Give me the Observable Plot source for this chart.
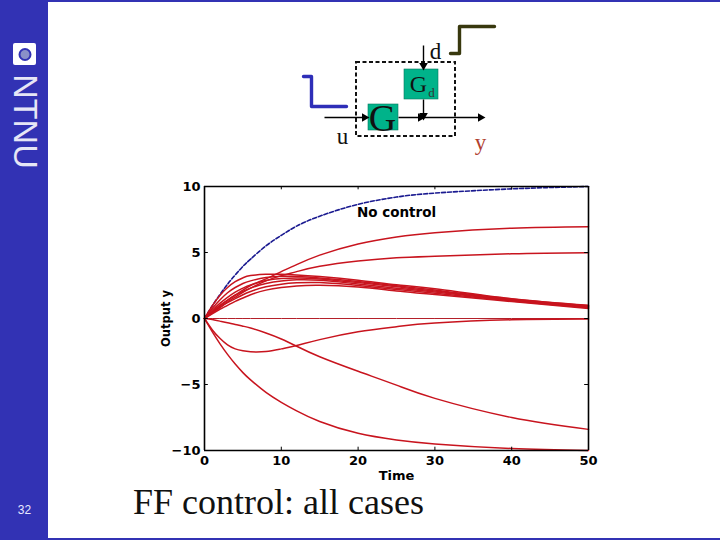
<!DOCTYPE html>
<html><head><meta charset="utf-8">
<script src="https://cdn.jsdelivr.net/npm/d3@7"></script>
<script src="https://cdn.jsdelivr.net/npm/@observablehq/plot@0.6"></script>
<style>
html,body{margin:0;padding:0;background:#fff;width:720px;height:540px;overflow:hidden}
#side{position:absolute;left:0;top:0;width:48px;height:540px;background:#3232b4}
#topb{position:absolute;left:0;top:0;width:720px;height:2px;background:#3232b4}
#botb{position:absolute;left:0;top:538px;width:720px;height:2px;background:#3232b4}
#diagram,#chart{position:absolute;left:0}
#diagram{top:0}#chart{top:170px}
#title{position:absolute;left:133px;top:484px;font:36px/36px "Liberation Serif",serif;color:#111;white-space:nowrap}
</style></head><body>
<div id="side"></div><div id="topb"></div><div id="botb"></div>
<div id="diagram"></div><div id="chart"></div>
<div id="title">FF control: all cases</div>
<script>
const t = [0,1,2,3,4,5,6,8,10,12,15,20,25,30,40,50];
const noControl = [0,0.95,1.8,2.6,3.3,3.95,4.5,5.5,6.3,7.0,7.75,8.65,9.2,9.5,9.82,10];
const high7 = [0,0.48,0.95,1.38,1.78,2.15,2.5,3.0,3.55,4.08,4.8,5.65,6.18,6.5,6.84,6.95];
const high5 = [0,0.45,0.85,1.25,1.62,1.98,2.3,2.85,3.25,3.55,3.95,4.35,4.6,4.72,4.9,4.98];
const b1 = [0,0.95,1.75,2.35,2.8,3.08,3.25,3.35,3.35,3.3,3.18,2.9,2.55,2.25,1.5,1.0];
const b2 = [0,0.75,1.4,1.95,2.35,2.65,2.85,3.1,3.2,3.18,3.07,2.8,2.48,2.15,1.48,0.97];
const b3 = [0,0.62,1.15,1.6,2.0,2.3,2.55,2.88,3.03,3.07,3.0,2.72,2.4,2.08,1.42,0.92];
const b4 = [0,0.52,1.0,1.4,1.75,2.05,2.3,2.65,2.85,2.93,2.9,2.62,2.3,2.0,1.38,0.87];
const b5 = [0,0.42,0.82,1.2,1.5,1.8,2.05,2.4,2.6,2.7,2.72,2.5,2.2,1.92,1.33,0.82];
const b6 = [0,0.36,0.7,1.0,1.3,1.55,1.8,2.15,2.35,2.47,2.52,2.38,2.08,1.82,1.28,0.75];
const flat = t.map(() => 0);
const dip = [0,-0.85,-1.5,-2.0,-2.3,-2.45,-2.52,-2.5,-2.3,-2.05,-1.6,-1.0,-0.62,-0.35,-0.1,-0.04];
const low8 = [0,-0.08,-0.2,-0.33,-0.45,-0.58,-0.72,-1.1,-1.55,-2.1,-2.9,-4.0,-5.05,-6.05,-7.5,-8.4];
const low10 = [0,-1.0,-1.9,-2.72,-3.45,-4.1,-4.65,-5.6,-6.35,-7.0,-7.8,-8.7,-9.2,-9.5,-9.85,-10];
const reds = [high7,high5,b1,b2,b3,b4,b5,b6,dip,low8,low10];
const xTicks = [0,10,20,30,40,50];
const yTicks = [-10,-5,0,5,10];
const labelFont = '"DejaVu Sans",sans-serif';
const toRows = v => v.map((y,i)=>({t:t[i],y}));
const RED = "#c8141e";

const chart = Plot.plot({
  width:720,height:320,marginLeft:204,marginRight:132,marginTop:16,marginBottom:40,
  style:{background:"transparent",fontFamily:labelFont,fontWeight:"bold",fontSize:"13px",color:"#000"},
  x:{domain:[0,50],ticks:xTicks,label:null},
  y:{domain:[-10,10],ticks:yTicks,label:null},
  marks:[
    Plot.axisX({ticks:xTicks,tickSize:0,tickPadding:5,label:null,fontSize:13,fontWeight:"bold"}),
    Plot.axisY({ticks:yTicks,tickSize:0,tickPadding:4,label:null,fontSize:13,fontWeight:"bold"}),
    Plot.line(toRows(noControl),{x:"t",y:"y",stroke:"#1a1a90",strokeWidth:1.6,strokeDasharray:"4 2",curve:"natural"}),
    Plot.line(toRows(flat),{x:"t",y:"y",stroke:"#b4202a",strokeWidth:1}),
    ...reds.map(v=>Plot.line(toRows(v),{x:"t",y:"y",stroke:RED,strokeWidth:1.5,curve:"natural"})),
    Plot.ruleX(xTicks.slice(1,-1),{y1:-10,y2:-9.75,stroke:"#000"}),
    Plot.ruleX(xTicks.slice(1,-1),{y1:10,y2:9.75,stroke:"#000"}),
    Plot.ruleY(yTicks.slice(1,-1),{x1:0,x2:0.5,stroke:"#000"}),
    Plot.ruleY(yTicks.slice(1,-1),{x1:50,x2:49.5,stroke:"#000"}),
    Plot.ruleX([0,50],{stroke:"#000",strokeWidth:1.6}),
    Plot.ruleY([-10,10],{stroke:"#000",strokeWidth:1.6}),
    Plot.text(["No control"],{x:[25],y:[8],fontSize:13.5,fontWeight:"bold",fill:"#000"}),
    Plot.text(["Time"],{x:[25],y:[-10],dy:25,fontSize:13,fontWeight:"bold",fill:"#000"}),
    Plot.text(["Output y"],{x:[0],y:[0],dx:-38,rotate:-90,fontSize:11.5,fontWeight:"bold",fill:"#000"})
  ]
});
document.getElementById("chart").append(chart);

// block diagram, in page-pixel units
const dashedBox = [{x1:356,x2:455,y1:62,y2:136}];
const boxes = [{x1:368,x2:398,y1:104,y2:130},{x1:404,x2:438,y1:69,y2:99}];
const inputStep = [[303,76],[311,76],[311,106],[346,106]].map(([x,y])=>({x,y}));
const distStep = [[450,53],[459,53],[459,26],[494,26]].map(([x,y])=>({x,y}));
const lines = [
  {x1:324,y1:117,x2:364,y2:117},{x1:398,y1:117,x2:480,y2:117},
  {x1:423,y1:45,x2:423,y2:66},{x1:423,y1:99,x2:423,y2:115}
];
const heads = [
  {x:364,y:117,rot:90},{x:480,y:117,rot:90},{x:423,y:65,rot:180},{x:423,y:115,rot:180},{x:420,y:117,rot:90}
];
const serifLabels = [
  {x:342,y:136,s:"u",size:23,c:"#111"},{x:435,y:51,s:"d",size:23,c:"#111"},
  {x:382,y:118,s:"G",size:38,c:"#111"},{x:418,y:84,s:"G",size:24,c:"#111"},
  {x:431,y:92,s:"d",size:13,c:"#333"},{x:480,y:142,s:"y",size:23,c:"#b04030"}
];
const diagram = Plot.plot({
  width:720,height:170,margin:0,
  style:{background:"transparent",fontFamily:'"Liberation Serif",serif',overflow:"visible"},
  x:{type:"identity",axis:null},y:{type:"identity",axis:null},
  marks:[
    Plot.rect([{x1:13,x2:36,y1:43,y2:65}],{x1:"x1",x2:"x2",y1:"y1",y2:"y2",fill:"#fff",r:2}),
    Plot.dot([{x:24.5,y:54}],{x:"x",y:"y",r:5.5,fill:"#8a90c8",stroke:"#3232b4",strokeWidth:2}),
    Plot.text(["NTNU"],{x:[24],y:[121],rotate:90,fontSize:34,fontFamily:'"Liberation Sans Narrow","Liberation Sans",sans-serif',fill:"#e6e6f6",fontWeight:"300"}),
    Plot.text(["32"],{x:[24],y:[510],fontSize:12,fill:"#e8e8ff",fontFamily:'"Liberation Sans",sans-serif'}),
    Plot.rect(boxes,{x1:"x1",x2:"x2",y1:"y1",y2:"y2",fill:"#00b38a",stroke:"#08785e",strokeWidth:0.6}),
    Plot.rect(dashedBox,{x1:"x1",x2:"x2",y1:"y1",y2:"y2",fill:"none",stroke:"#111",strokeWidth:2,strokeDasharray:"4 2.5"}),
    Plot.line(inputStep,{x:"x",y:"y",stroke:"#2e2eb8",strokeWidth:3.4}),
    Plot.line(distStep,{x:"x",y:"y",stroke:"#38380e",strokeWidth:3.4}),
    Plot.link(lines,{x1:"x1",y1:"y1",x2:"x2",y2:"y2",stroke:"#000",strokeWidth:1.4}),
    Plot.dot(heads,{x:"x",y:"y",symbol:"triangle",r:3.2,rotate:"rot",fill:"#000"}),
    Plot.text(serifLabels,{x:"x",y:"y",text:"s",fontSize:"size",fill:"c"})
  ]
});
document.getElementById("diagram").append(diagram);
</script></body></html>
